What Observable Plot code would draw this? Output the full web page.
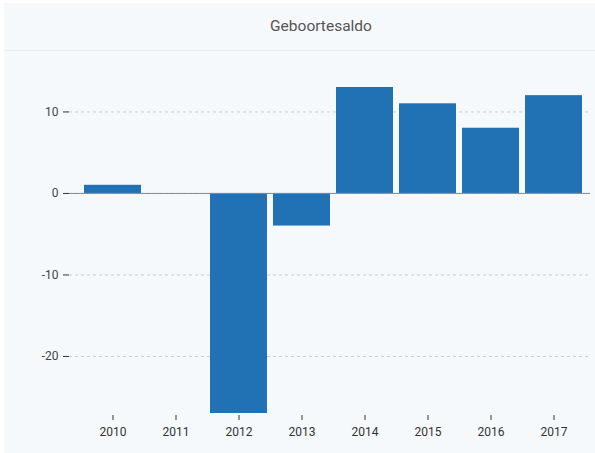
<!DOCTYPE html>
<html>
<head>
<meta charset="utf-8">
<script src="https://cdn.jsdelivr.net/npm/d3@7"></script>
<script src="https://cdn.jsdelivr.net/npm/@observablehq/plot@0.6"></script>
<style>
  html, body { margin: 0; padding: 0; background: #ffffff; }
  #card {
    position: absolute; left: 4px; top: 3px; width: 591px; height: 450px;
    background: #f5f9fc; font-family: Roboto, "Noto Sans", sans-serif; overflow: hidden;
  }
  #title {
    height: 47px; line-height: 47px; text-align: center; padding-left: 43px;
    font-size: 15.5px; color: #555;
  }
  #sep { height: 1px; background: #eaeef3; }
  #chart svg { display: block; }
</style>
</head>
<body>
<div id="card">
  <div id="title">Geboortesaldo</div>
  <div id="sep"></div>
  <div id="chart"></div>
</div>
<script>
const years = ["2010", "2011", "2012", "2013", "2014", "2015", "2016", "2017"];
const saldo = [1, 0, -27, -4, 13, 11, 8, 12];
const yTicks = [-20, -10, 0, 10];

const data = years.map((y, i) => ({year: y, value: saldo[i]}));

const chart = Plot.plot({
  width: 591,
  height: 402,
  marginTop: 36,
  marginBottom: 40,
  marginLeft: 65,
  marginRight: 5,
  style: {background: "transparent", fontFamily: "Roboto, sans-serif", fontSize: "12px", color: "#333"},
  x: {domain: years, padding: 0.1, insetLeft: 6, label: null},
  y: {domain: [-27, 13], label: null},
  marks: [
    Plot.gridY(yTicks, {stroke: "#c8ccd0", strokeOpacity: 1, strokeDasharray: "3,3"}),
    Plot.barY(data, {x: "year", y: "value", fill: "#2171b5"}),
    Plot.ruleY([0], {stroke: "#8a8a8a", strokeWidth: 1}),
    Plot.axisY(yTicks, {tickSize: 6, tickPadding: 5, fontSize: 12, fill: "#444", tickFormat: d => String(d)}),
    Plot.axisX({tickSize: 5, tickPadding: 7, fontSize: 12, fill: "#333", dy: 2})
  ]
});
document.getElementById("chart").appendChild(chart);
</script>
</body>
</html>
